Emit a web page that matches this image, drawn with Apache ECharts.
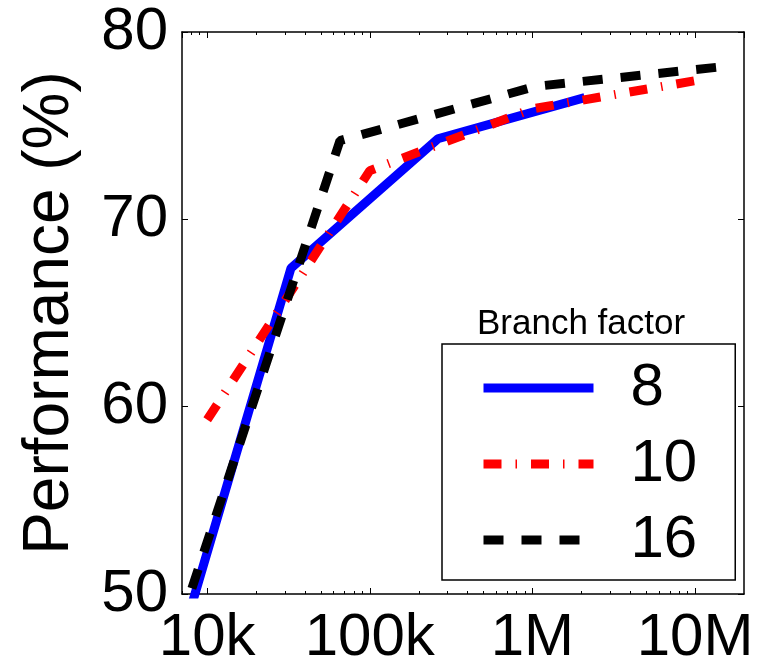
<!DOCTYPE html>
<html>
<head>
<meta charset="utf-8">
<script src="https://cdn.jsdelivr.net/npm/echarts@6/dist/echarts.min.js"></script>
<style>
  html, body { margin: 0; padding: 0; background: #fff; }
  #chart { width: 759px; height: 668px; }
</style>
</head>
<body>
<div id="chart"></div>
<script>
// x = number of items (log scale), y = performance in %
const sizes8 = [4096, 32768, 262144, 2097152]
const perf8 = [40.8, 67.4, 74.3, 76.5]
const sizes10 = [10000, 100000, 1000000, 10000000]
const perf10 = [59.3, 72.6, 75.9, 77.4]
const sizes16 = [4096, 65536, 1048576, 16777216]
const perf16 = [42.6, 74.2, 77.1, 78.2]

const seriesNames = ['8', '10', '16']
const xMajorTicks = [1e4, 1e5, 1e6, 1e7]
const xMajorLabels = ['10k', '100k', '1M', '10M']
const xMinorTicks = [
  7e3, 8e3, 9e3,
  2e4, 3e4, 4e4, 5e4, 6e4, 7e4, 8e4, 9e4,
  2e5, 3e5, 4e5, 5e5, 6e5, 7e5, 8e5, 9e5,
  2e6, 3e6, 4e6, 5e6, 6e6, 7e6, 8e6, 9e6
]
const X_MIN = 7000
const X_MAX = 20000000

const FONT = 'Liberation Sans, Arial, Helvetica, sans-serif'

function zip(xs, ys) {
  return xs.map((x, i) => [x, ys[i]])
}

const chart = echarts.init(document.getElementById('chart'))

const frameLine = { show: true, lineStyle: { color: '#000', width: 1.5 } }
const tickLine = { color: '#000', width: 1 }

// minor ticks only: a hidden axis in log10 space sharing the grid
function minorAxis(position) {
  return {
    type: 'value',
    position: position,
    min: Math.log10(X_MIN),
    max: Math.log10(X_MAX),
    splitLine: { show: false },
    axisLine: { show: false, onZero: false },
    axisLabel: { show: false },
    axisTick: {
      show: true,
      inside: true,
      length: 3,
      customValues: xMinorTicks.map(v => Math.log10(v)),
      lineStyle: tickLine
    }
  }
}

chart.setOption({
  backgroundColor: '#fff',
  animation: false,
  title: {
    text: 'Branch factor',
    left: 477,
    top: 307,
    padding: 0,
    textStyle: { fontFamily: FONT, fontSize: 35, fontWeight: 'normal', color: '#000' }
  },
  grid: {
    left: 182,
    top: 32,
    right: 15,
    bottom: 74,
    containLabel: false
  },
  legend: {
    orient: 'vertical',
    left: 442,
    top: 344,
    padding: [14, 38, 10, 37],
    itemGap: 16,
    itemWidth: 110,
    itemHeight: 20,
    borderColor: '#000',
    borderWidth: 1.5,
    backgroundColor: '#fff',
    data: seriesNames,
    itemStyle: { opacity: 0, borderWidth: 0 },
    lineStyle: { width: 9, opacity: 1 },
    textStyle: {
      fontFamily: FONT,
      fontSize: 60,
      lineHeight: 60,
      color: '#000',
      padding: [0, 0, 0, 32]
    }
  },
  xAxis: [
    {
      type: 'log',
      logBase: 10,
      min: X_MIN,
      max: X_MAX,
      position: 'bottom',
      splitLine: { show: false },
      axisLine: Object.assign({ onZero: false }, frameLine),
      axisTick: { show: true, inside: true, length: 6, lineStyle: tickLine },
      axisLabel: {
        show: true,
        margin: 14,
        fontFamily: FONT,
        fontSize: 60,
        color: '#000',
        showMinLabel: false,
        showMaxLabel: false,
        formatter: function (v) {
          const i = xMajorTicks.findIndex(t => Math.abs(t - v) / t < 1e-6)
          return i >= 0 ? xMajorLabels[i] : ''
        }
      }
    },
    {
      type: 'log',
      logBase: 10,
      min: X_MIN,
      max: X_MAX,
      position: 'top',
      splitLine: { show: false },
      axisLine: Object.assign({ onZero: false }, frameLine),
      axisTick: { show: true, inside: true, length: 6, lineStyle: tickLine },
      axisLabel: { show: false }
    },
    minorAxis('bottom'),
    minorAxis('top')
  ],
  yAxis: [
    {
      type: 'value',
      position: 'left',
      min: 50,
      max: 80,
      interval: 10,
      name: 'Performance (%)',
      nameLocation: 'middle',
      nameGap: 100,
      nameTextStyle: { fontFamily: FONT, fontSize: 64, color: '#000' },
      axisLine: frameLine,
      axisTick: { show: true, inside: true, length: 6, lineStyle: tickLine },
      axisLabel: { margin: 14, fontFamily: FONT, fontSize: 60, color: '#000' },
      splitLine: { show: false }
    },
    {
      type: 'value',
      position: 'right',
      min: 50,
      max: 80,
      interval: 10,
      axisLine: frameLine,
      axisTick: { show: true, inside: true, length: 6, lineStyle: tickLine },
      axisLabel: { show: false },
      splitLine: { show: false }
    }
  ],
  series: [
    {
      name: '8',
      type: 'line',
      symbol: 'none',
      data: zip(sizes8, perf8),
      lineStyle: { color: '#0000ff', width: 9, cap: 'butt' },
      itemStyle: { color: '#0000ff' }
    },
    {
      name: '10',
      type: 'line',
      symbol: 'none',
      data: zip(sizes10, perf10),
      lineStyle: { color: '#ff0000', width: 9, type: [18, 14, 1.5, 14], cap: 'butt' },
      itemStyle: { color: '#ff0000' }
    },
    {
      name: '16',
      type: 'line',
      symbol: 'none',
      data: zip(sizes16, perf16),
      lineStyle: { color: '#000', width: 9, type: [20, 18], cap: 'butt' },
      itemStyle: { color: '#000' }
    }
  ]
})
</script>
</body>
</html>
